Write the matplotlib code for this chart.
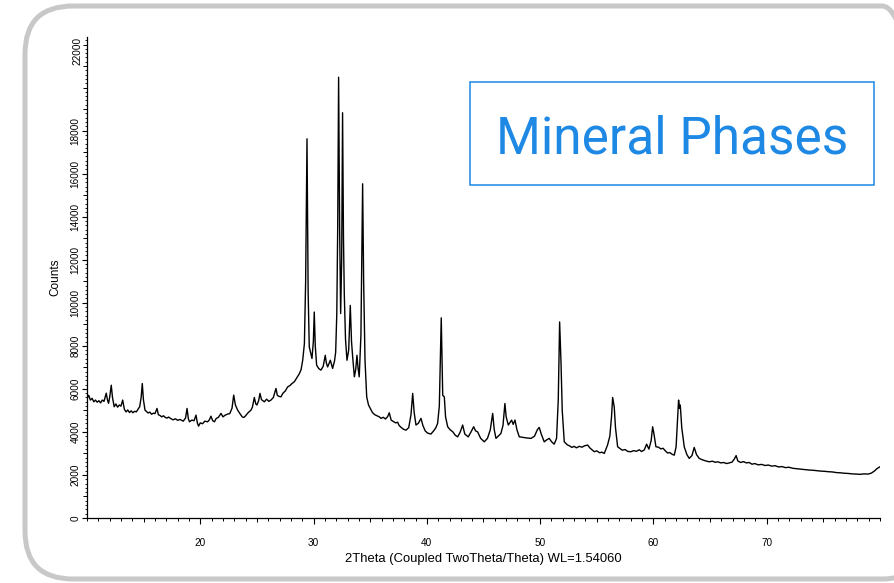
import matplotlib
matplotlib.use("Agg")
import matplotlib.pyplot as plt
from matplotlib.patches import FancyBboxPatch, Rectangle
from matplotlib.transforms import IdentityTransform
from matplotlib.ticker import FixedLocator, MultipleLocator, NullFormatter

# Diffraction pattern: 2-theta (degrees) and detector counts
two_theta = [
    10.00, 10.15, 10.30, 10.45, 10.60, 10.75, 10.90, 11.05, 11.20, 11.35,
    11.50, 11.62, 11.70, 11.80, 11.90, 12.00, 12.14, 12.25, 12.40, 12.55,
    12.70, 12.85, 13.00, 13.15, 13.30, 13.45, 13.60, 13.75, 13.90, 14.05,
    14.20, 14.35, 14.50, 14.65, 14.78, 14.88, 14.98, 15.12, 15.25, 15.40,
    15.55, 15.70, 15.85, 16.00, 16.18, 16.30, 16.45, 16.60, 16.75, 16.90,
    17.05, 17.20, 17.40, 17.60, 17.80, 18.00, 18.20, 18.50, 18.70, 18.83,
    18.95, 19.05, 19.25, 19.45, 19.62, 19.75, 19.85, 20.00, 20.20, 20.40,
    20.65, 20.80, 20.94, 21.10, 21.25, 21.40, 21.60, 21.83, 22.00, 22.20,
    22.42, 22.60, 22.80, 22.95, 23.10, 23.30, 23.50, 23.70, 23.85, 24.00,
    24.20, 24.47, 24.60, 24.77, 24.90, 25.00, 25.15, 25.27, 25.40, 25.65,
    25.85, 26.05, 26.24, 26.45, 26.68, 26.80, 26.95, 27.12, 27.30, 27.50,
    27.71, 27.90, 28.10, 28.30, 28.50, 28.75, 28.90, 29.04, 29.19, 29.30,
    29.42, 29.52, 29.62, 29.86, 29.98, 30.06, 30.15, 30.27, 30.45, 30.65,
    30.85, 31.03, 31.13, 31.24, 31.48, 31.68, 31.85, 31.95, 32.05, 32.13,
    32.21, 32.30, 32.39, 32.48, 32.56, 32.64, 32.71, 32.82, 32.95, 33.10,
    33.24, 33.35, 33.45, 33.60, 33.72, 33.83, 33.92, 34.03, 34.18, 34.33,
    34.42, 34.54, 34.69, 34.85, 35.00, 35.20, 35.40, 35.60, 35.80, 35.95,
    36.15, 36.35, 36.55, 36.68, 36.85, 37.05, 37.25, 37.42, 37.55, 37.75,
    37.95, 38.16, 38.40, 38.60, 38.75, 38.88, 39.04, 39.25, 39.48, 39.65,
    39.85, 40.05, 40.36, 40.60, 40.80, 40.95, 41.10, 41.27, 41.40, 41.54,
    41.65, 41.84, 42.05, 42.30, 42.50, 42.72, 42.95, 43.16, 43.35, 43.65,
    43.90, 44.13, 44.30, 44.48, 44.75, 45.07, 45.35, 45.60, 45.81, 45.95,
    46.10, 46.30, 46.54, 46.72, 46.89, 47.00, 47.19, 47.35, 47.48, 47.62,
    47.78, 47.95, 48.16, 48.45, 48.80, 49.19, 49.50, 49.75, 49.92, 50.10,
    50.36, 50.55, 50.80, 51.00, 51.24, 51.45, 51.60, 51.72, 51.84, 51.95,
    52.13, 52.40, 52.60, 52.80, 53.00, 53.20, 53.45, 53.70, 53.90, 54.19,
    54.40, 54.60, 54.78, 55.00, 55.25, 55.45, 55.66, 55.95, 56.15, 56.30,
    56.40, 56.54, 56.65, 56.84, 57.05, 57.25, 57.50, 57.75, 58.01, 58.25,
    58.50, 58.75, 58.95, 59.19, 59.40, 59.60, 59.80, 59.93, 60.05, 60.22,
    60.45, 60.65, 60.85, 61.05, 61.25, 61.45, 61.65, 61.84, 62.00, 62.12,
    62.22, 62.30, 62.37, 62.50, 62.72, 62.95, 63.16, 63.40, 63.60, 63.80,
    64.04, 64.25, 64.45, 64.70, 64.93, 65.20, 65.45, 65.70, 65.95, 66.20,
    66.45, 66.70, 66.95, 67.15, 67.30, 67.45, 67.70, 67.95, 68.20, 68.45,
    68.70, 68.95, 69.25, 69.55, 69.85, 70.15, 70.45, 70.75, 71.05, 71.35,
    71.65, 71.95, 72.30, 72.65, 73.00, 73.35, 73.70, 74.05, 74.40, 74.75,
    75.10, 75.45, 75.80, 76.15, 76.50, 76.85, 77.20, 77.55, 77.90, 78.25,
    78.60, 78.95, 79.25, 79.50, 79.75, 80.00,
]
counts = [
    5550, 5700, 5480, 5560, 5400, 5480, 5380, 5450, 5350, 5480,
    5420, 5650, 5800, 5500, 5330, 5600, 6170, 5600, 5170, 5300,
    5150, 5250, 5200, 5480, 5050, 4930, 5020, 4900, 4980, 4890,
    4960, 4930, 5050, 5170, 5600, 6250, 5500, 5010, 4950, 4880,
    4920, 4820, 4870, 4850, 5090, 4800, 4760, 4700, 4750, 4680,
    4640, 4690, 4620, 4560, 4610, 4540, 4580, 4500, 4650, 5090,
    4600, 4470, 4550, 4520, 4780, 4400, 4270, 4420, 4380, 4500,
    4470, 4560, 4730, 4520, 4470, 4620, 4680, 4860, 4700, 4780,
    4830, 4850, 5100, 5710, 5250, 5010, 4850, 4700, 4670, 4750,
    4880, 5010, 5150, 5600, 5300, 5250, 5450, 5790, 5500, 5400,
    5520, 5420, 5480, 5600, 6020, 5700, 5650, 5630, 5800, 5900,
    6090, 6150, 6250, 6330, 6500, 6710, 6900, 7330, 8100, 11000,
    17620, 10500, 7950, 7410, 8200, 9570, 8000, 7100, 6950, 6870,
    7050, 7560, 7200, 7020, 7330, 6950, 7300, 7700, 9500, 13500,
    20480, 13500, 9500, 12000, 18830, 13000, 10430, 8300, 7330, 7800,
    9880, 8200, 7490, 6560, 6900, 7560, 7000, 6560, 8500, 15530,
    11000, 7330, 5630, 5250, 5100, 4900, 4800, 4750, 4700, 4630,
    4680, 4600, 4720, 4890, 4550, 4480, 4420, 4450, 4300, 4200,
    4120, 4080, 4200, 4800, 5790, 4900, 4320, 4400, 4630, 4300,
    4050, 3950, 3900, 4050, 4200, 4400, 5200, 9300, 5700, 5630,
    4700, 4240, 4100, 4000, 3850, 3770, 4000, 4320, 3900, 3770,
    4000, 4240, 4050, 4000, 3700, 3540, 3700, 4100, 4860, 4100,
    3700, 3800, 3930, 4300, 5320, 4700, 4320, 4450, 4550, 4350,
    4550, 4100, 3770, 3750, 3720, 3700, 3800, 4100, 4210, 3900,
    3540, 3620, 3700, 3550, 3430, 3700, 5500, 9110, 7250, 5000,
    3540, 3400, 3350, 3280, 3330, 3260, 3330, 3290, 3350, 3390,
    3250, 3160, 3080, 3120, 3030, 3060, 3000, 3390, 3800, 4700,
    5600, 5160, 4200, 3310, 3230, 3150, 3180, 3090, 3080, 3130,
    3100, 3170, 3090, 3160, 3430, 3200, 3600, 4240, 3900, 3310,
    3290, 3210, 3240, 3120, 3020, 3040, 2960, 2920, 3300, 4500,
    5480, 5100, 5250, 4200, 3310, 2950, 2770, 2900, 3280, 2950,
    2770, 2720, 2680, 2640, 2610, 2640, 2590, 2610, 2560, 2580,
    2530, 2560, 2600, 2750, 2900, 2650, 2580, 2620, 2560, 2580,
    2500, 2530, 2470, 2490, 2440, 2460, 2410, 2430, 2370, 2390,
    2340, 2360, 2310, 2290, 2270, 2250, 2230, 2220, 2200, 2180,
    2170, 2150, 2140, 2110, 2100, 2080, 2070, 2050, 2040, 2030,
    2050, 2040, 2090, 2180, 2300, 2380,
]

x_major = [20, 30, 40, 50, 60, 70]
y_major = [0, 2000, 4000, 6000, 8000, 10000, 12000, 14000, 16000, 18000]
y_top_label = "22000"
x_label = "2Theta (Coupled TwoTheta/Theta) WL=1.54060"
y_label = "Counts"
title = "Mineral Phases"

W, H = 894, 583
plt.rcParams["font.family"] = ["Liberation Sans", "DejaVu Sans"]
fig = plt.figure(figsize=(W / 100, H / 100), dpi=100)

# Rounded outer frame (pixel units); the right side runs past the canvas
frame = FancyBboxPatch((25, 4), 905, 573,
                       boxstyle="round,pad=0,rounding_size=48",
                       transform=IdentityTransform(), fill=False,
                       edgecolor="#c8c8c8", linewidth=3.6)
fig.add_artist(frame)

ax = fig.add_axes([87 / W, 1 - 518 / H, (880 - 87) / W, (518 - 37) / H])
ax.plot(two_theta, counts, color="black", linewidth=1.0)
ax.set_xlim(10, 80)
ax.set_ylim(0, 22350)
for s in ("top", "right"):
    ax.spines[s].set_visible(False)
for s in ("left", "bottom"):
    ax.spines[s].set_linewidth(0.9)

ax.xaxis.set_major_locator(FixedLocator(x_major))
ax.xaxis.set_minor_locator(MultipleLocator(1))
ax.yaxis.set_major_locator(FixedLocator(y_major))
ax.yaxis.set_minor_locator(MultipleLocator(200))
ax.tick_params(axis="x", which="major", length=4.3, width=0.8, labelsize=7.2, pad=10)
ax.tick_params(axis="x", which="minor", length=2.2, width=0.7)
ax.tick_params(axis="y", which="major", length=3.6, width=0.8, labelsize=7.2, pad=1)
ax.tick_params(axis="y", which="minor", length=1.6, width=0.6)
for lbl in ax.get_yticklabels():
    lbl.set_rotation(90)
    lbl.set_va("center")

# Mid-length ticks at the halfway marks
sx = ax.secondary_xaxis("bottom")
sx.set_xticks([15, 25, 35, 45, 55, 65, 75])
sx.xaxis.set_major_formatter(NullFormatter())
sx.tick_params(length=3.2, width=0.7)
sx.spines["bottom"].set_visible(False)
sy = ax.secondary_yaxis("left")
sy.set_yticks(list(range(1000, 22001, 2000)) + [20000, 22000])
sy.yaxis.set_major_formatter(NullFormatter())
sy.tick_params(length=2.8, width=0.7)
sy.spines["left"].set_visible(False)

ax.text(-5 / 793, 1.0, y_top_label, transform=ax.transAxes, rotation=90,
        ha="right", va="top", fontsize=7.2)

ax.set_xlabel(x_label, fontsize=9.4, labelpad=4)
ax.set_ylabel(y_label, fontsize=8.5, labelpad=7)

# Title box
blue = "#1e88e5"
fig.add_artist(Rectangle((470, H - 185), 404, 103, transform=IdentityTransform(),
                         fill=False, edgecolor=blue, linewidth=1.1))
fig.text(672 / W, (H - 139) / H, title, color=blue, fontsize=37,
         family=["Roboto", "DejaVu Sans"], ha="center", va="center")

fig.savefig("out.png", dpi=100)
